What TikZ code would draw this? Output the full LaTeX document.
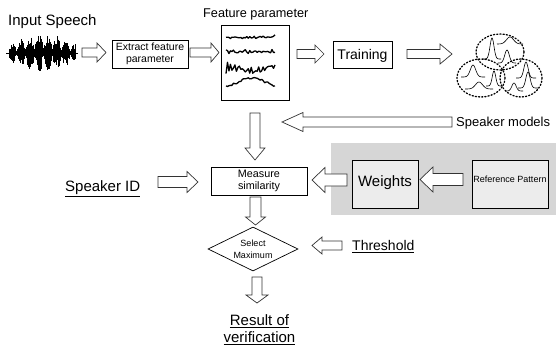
\documentclass[tikz,border=0pt]{standalone}
\usepackage{fontspec}
\setmainfont{Liberation Sans}
\usetikzlibrary{shapes.geometric}
\definecolor{bggrey}{HTML}{D6D6D6}
\definecolor{boxgrey}{HTML}{ECECEC}
\newcommand\ulin[1]{\leavevmode\vtop{\hbox{#1}\kern1.4pt\hrule height 1.1pt}}
% horizontal block arrow: tail x, tip x, y, shaft half, head half, head length
\newcommand\harr[6]{%
  \pgfmathsetmacro\hbx{#2-sign(#2-#1)*#6}%
  \draw[barrow] (#1,#3-#4) -- (\hbx,#3-#4) -- (\hbx,#3-#5) -- (#2,#3) -- (\hbx,#3+#5) -- (\hbx,#3+#4) -- (#1,#3+#4) -- cycle;}
% vertical block arrow: x, tail y, tip y, shaft half, head half, head length
\newcommand\varr[6]{%
  \pgfmathsetmacro\hby{#3-sign(#3-#2)*#6}%
  \draw[barrow] (#1-#4,#2) -- (#1-#4,\hby) -- (#1-#5,\hby) -- (#1,#3) -- (#1+#5,\hby) -- (#1+#4,\hby) -- (#1+#4,#2) -- cycle;}
% gaussian bump: mu, base y, height, sigma, half range
\newcommand\gaus[5]{%
  \draw[line width=0.6pt] plot[domain=#1-#5:#1+#5, samples=31, smooth] (\x,{#2-#3*exp(-((\x-#1)/#4)^2)});}
\tikzset{
  box/.style={draw, line width=0.8pt, inner sep=0pt, align=center},
  barrow/.style={draw=black!80, line width=0.7pt, fill=white, line join=miter},
  lbl/.style={inner sep=0pt},
  dotring/.style={line width=1.3pt, dash pattern=on 1.2pt off 2pt, line cap=round},
  fwave/.style={line width=1.3pt, line join=round},
}
\begin{document}
\begin{tikzpicture}[x=1pt,y=-1pt]
\useasboundingbox (0,0) rectangle (558,351);

% grey background panel
\fill[bggrey] (331,143) rectangle (556,215);

% ---- texts ----
\node[lbl, anchor=base west, font=\fontsize{15}{17}\selectfont] (inp) at (8,25) {Input Speech};
\node[lbl, anchor=base west, font=\fontsize{12.7}{14}\selectfont] (featlbl) at (203,17) {Feature parameter};
\node[lbl, anchor=base west, font=\fontsize{13}{15}\selectfont] (spkm) at (456,126) {Speaker models};
\node[lbl, anchor=base west, font=\fontsize{15}{17}\selectfont] (sid) at (65,191.5) {\ulin{Speaker ID}};
\node[lbl, anchor=base west, font=\fontsize{14}{16}\selectfont] (thr) at (352,250.5) {\ulin{Threshold}};
\node[lbl, anchor=north, align=center, font=\fontsize{15}{17}\selectfont] (res) at (259.5,314) {\ulin{Result of}\\\ulin{verification}};

% ---- waveform ----
\pgfmathsetseed{11}
\draw[line width=0.6pt] (6,53) -- (78,53);
\foreach \i in {0,...,132}{
  \pgfmathsetmacro\xx{9+\i*0.5}
  \pgfmathsetmacro\env{(4+16*abs(sin(\xx*20+30)))*(0.45+0.55*sin((\xx-9)*180/66))}
  \pgfmathsetmacro\aa{\env*(0.35+0.65*rnd)}
  \pgfmathsetmacro\bb{\env*(0.35+0.65*rnd)}
  \draw[line width=0.6pt] (\xx,53-\aa) -- (\xx,53+\bb);
}

% ---- boxes ----
\node[box, minimum width=76pt, minimum height=28pt, font=\fontsize{10.5}{11.6}\selectfont] (extract) at (150,54) {Extract feature\\parameter};
\node[box, minimum width=68pt, minimum height=75pt] (feat) at (255,62.5) {};
\node[box, minimum width=59pt, minimum height=27pt, font=\fontsize{14}{16}\selectfont, text height=10.2pt, text depth=0pt] (train) at (362.5,54.5) {Training};
\node[box, minimum width=96pt, minimum height=28pt, font=\fontsize{10.8}{11.5}\selectfont] (meas) at (259,181) {Measure\\similarity};
\node[box, fill=boxgrey, minimum width=66pt, minimum height=48pt, font=\fontsize{15}{17}\selectfont, text height=10.9pt, text depth=6pt] (w) at (385,184) {Weights};
\node[box, fill=boxgrey, minimum width=76pt, minimum height=48pt, font=\fontsize{9}{11}\selectfont, text height=6.6pt, text depth=9.2pt] (ref) at (510,184) {Reference Pattern};
\node[box, diamond, aspect=2, minimum width=90pt, minimum height=44pt, line width=0.7pt, font=\fontsize{9}{11.6}\selectfont] (sel) at (253,249) {Select\\Maximum};

% ---- feature waves ----
\pgfmathsetseed{5}
\draw[fwave] plot[domain=226:275, samples=34] (\x,{38-1.2*rnd*(0.3+2.2*((\x-226)/49)^2)+0.8*rand});
\draw[fwave] plot[domain=226:275, samples=34] (\x,{53-3.8*rnd*(0.4+0.6*abs(sin(\x*9)))+1.2*rand});
\draw[fwave] plot[domain=226:275, samples=34] (\x,{68+6*rand*(0.3+0.7*abs(sin(\x*6)))});
\draw[fwave] plot[domain=226:275, samples=34] (\x,{83+4*cos((\x-226)*7)-2.5*rnd});

% ---- speaker model cluster ----
\draw[dotring] (500,52) ellipse [x radius=24, y radius=18];
\draw[dotring] (481,78) ellipse [x radius=24, y radius=19];
\draw[dotring] (521,78) ellipse [x radius=21, y radius=19];
\gaus{492}{59}{21}{2.8}{9}
\gaus{510}{44}{7}{5}{13}
\gaus{507}{63}{13}{3.2}{9}
\gaus{473}{77}{12}{3.8}{12}
\gaus{479}{89}{7}{5}{14}
\gaus{494}{86}{15}{2.5}{8}
\gaus{526}{78}{16}{3}{10}
\gaus{528}{88}{16}{3}{10}
\gaus{514}{91}{8}{3}{9}

% ---- block arrows ----
\harr{82}{106}{52.5}{4.5}{9.5}{9}
\harr{190}{219}{52.5}{4.5}{9.5}{8}
\harr{297}{324}{54}{4.5}{9}{9}
\harr{407}{452}{54}{4.5}{10}{12}
\harr{452}{282}{122}{5}{9.5}{21}
\varr{255}{113}{160}{5}{10}{12}
\harr{158}{198}{182}{5.5}{10.5}{11}
\harr{347}{312}{180}{6}{12.5}{13}
\harr{463}{420}{179.5}{6}{12.5}{13}
\varr{255.5}{197}{225}{5.5}{10}{8}
\harr{342}{312}{245.5}{4.5}{8.5}{10}
\varr{257}{277}{303}{5}{11}{8}
\end{tikzpicture}
\end{document}
